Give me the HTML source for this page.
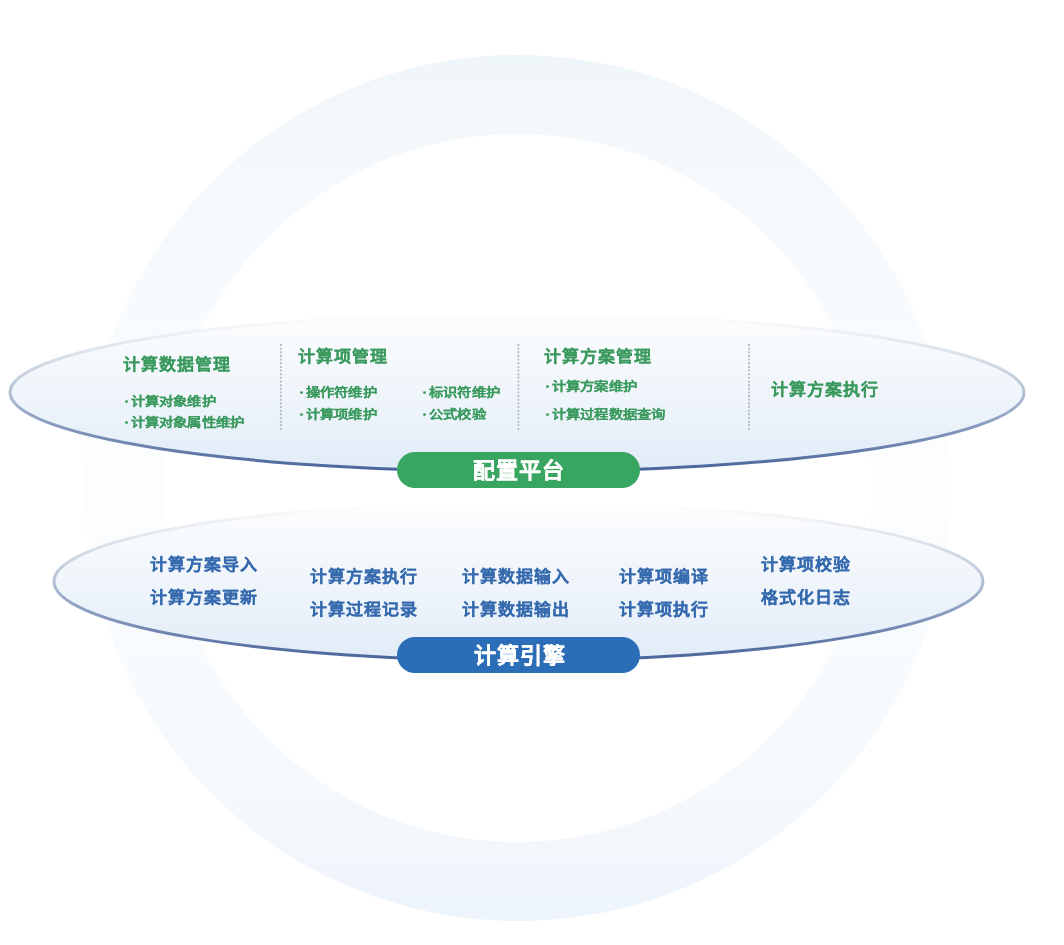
<!DOCTYPE html>
<html lang="zh-CN">
<head>
<meta charset="utf-8">
<style>
html,body{margin:0;padding:0;background:#fff;}
body{width:1064px;height:945px;position:relative;overflow:hidden;font-family:"Liberation Sans",sans-serif;font-weight:bold;}
svg.bg{position:absolute;left:0;top:0;}
.t{position:absolute;white-space:nowrap;line-height:1;-webkit-text-stroke:0.12px currentColor;transform-origin:0 0;}
.layer{position:absolute;left:0;top:0;width:1064px;height:945px;will-change:transform;}
.g{color:#3b9a5e;}
.b{color:#356aae;}
.h{font-size:17px;letter-spacing:1px;transform:scaleY(0.95);}
.s{font-size:14.3px;letter-spacing:0.2px;transform:scaleY(0.86);-webkit-text-stroke:0.05px currentColor;}
.d{display:inline-block;width:3px;height:3px;border-radius:50%;background:currentColor;margin:0 2.7px 0 1px;position:relative;top:-4px;}
.pill{position:absolute;left:397px;width:243px;height:36px;border-radius:18px;color:#fff;font-size:22px;text-align:center;line-height:38px;letter-spacing:1px;text-indent:0.2px;will-change:transform;-webkit-text-stroke:0.2px #fff;}
</style>
</head>
<body>
<svg class="bg" width="1064" height="945" viewBox="0 0 1064 945">
  <defs>
    <linearGradient id="ringg" x1="0" y1="55" x2="0" y2="921" gradientUnits="userSpaceOnUse">
      <stop offset="0" stop-color="#eff6fa"/>
      <stop offset="0.09" stop-color="#f3f8fb"/>
      <stop offset="0.15" stop-color="#f5f9fc"/>
      <stop offset="0.3" stop-color="#f8fbfd"/>
      <stop offset="0.5" stop-color="#fcfdfe"/>
      <stop offset="0.7" stop-color="#f8fbfd"/>
      <stop offset="0.85" stop-color="#f5f9fc"/>
      <stop offset="0.91" stop-color="#f2f7fc"/>
      <stop offset="1" stop-color="#edf4fb"/>
    </linearGradient>
    <linearGradient id="ef1" x1="0" y1="0" x2="0" y2="1">
      <stop offset="0" stop-color="#fcfdfe"/>
      <stop offset="0.5" stop-color="#f0f5fb"/>
      <stop offset="1" stop-color="#e1ecf8"/>
    </linearGradient>
    <linearGradient id="es1" x1="0" y1="0" x2="0" y2="1">
      <stop offset="0" stop-color="#ffffff"/>
      <stop offset="0.4" stop-color="#c6d1de"/>
      <stop offset="0.75" stop-color="#7f93b9"/>
      <stop offset="1" stop-color="#48639a"/>
    </linearGradient>
  </defs>
  <path fill="url(#ringg)" fill-rule="evenodd" d="M518 55 a433 433 0 1 0 0.01 0 Z M518 134 a354 354 0 1 1 -0.01 0 Z"/>
  <ellipse cx="517" cy="392.6" rx="507" ry="79" fill="url(#ef1)" stroke="url(#es1)" stroke-width="3"/>
  <ellipse cx="518.5" cy="581.5" rx="464.5" ry="79" fill="url(#ef1)" stroke="url(#es1)" stroke-width="3"/>
</svg>

<svg class="bg" width="1064" height="945"><g stroke="#b4b8bf" stroke-width="1.8" stroke-dasharray="2 1.65"><line x1="280.8" y1="344" x2="280.8" y2="430"/><line x1="518.4" y1="344" x2="518.4" y2="430"/><line x1="749" y1="344" x2="749" y2="430"/></g></svg>

<div class="layer">
<div class="t g h" style="left:122.5px;top:357px">计算数据管理</div>
<div class="t g s" style="left:124px;top:396px"><i class="d"></i>计算对象维护</div>
<div class="t g s" style="left:124px;top:417px"><i class="d"></i>计算对象属性维护</div>

<div class="t g h" style="left:298px;top:349px">计算项管理</div>
<div class="t g s" style="left:299.2px;top:387px"><i class="d"></i>操作符维护</div>
<div class="t g s" style="left:299.2px;top:409px"><i class="d"></i>计算项维护</div>
<div class="t g s" style="left:422.3px;top:387px"><i class="d"></i>标识符维护</div>
<div class="t g s" style="left:422.3px;top:409px"><i class="d"></i>公式校验</div>

<div class="t g h" style="left:544px;top:349px">计算方案管理</div>
<div class="t g s" style="left:545.2px;top:380.5px"><i class="d"></i>计算方案维护</div>
<div class="t g s" style="left:545.2px;top:408.5px"><i class="d"></i>计算过程数据查询</div>

<div class="t g h" style="left:770.5px;top:381.5px">计算方案执行</div>

<div class="pill" style="top:451.5px;background:#38a561">配置平台</div>

<div class="t b h" style="left:150px;top:557px">计算方案导入</div>
<div class="t b h" style="left:150px;top:590px">计算方案更新</div>
<div class="t b h" style="left:310px;top:569px">计算方案执行</div>
<div class="t b h" style="left:310px;top:602px">计算过程记录</div>
<div class="t b h" style="left:461.5px;top:569px">计算数据输入</div>
<div class="t b h" style="left:461.5px;top:602px">计算数据输出</div>
<div class="t b h" style="left:618.5px;top:569px">计算项编译</div>
<div class="t b h" style="left:618.5px;top:602px">计算项执行</div>
<div class="t b h" style="left:760.5px;top:557px">计算项校验</div>
<div class="t b h" style="left:760.5px;top:589.8px">格式化日志</div>

<div class="pill" style="top:637px;background:#2b6db6;text-indent:3.8px">计算引擎</div>
</div>
</body>
</html>
